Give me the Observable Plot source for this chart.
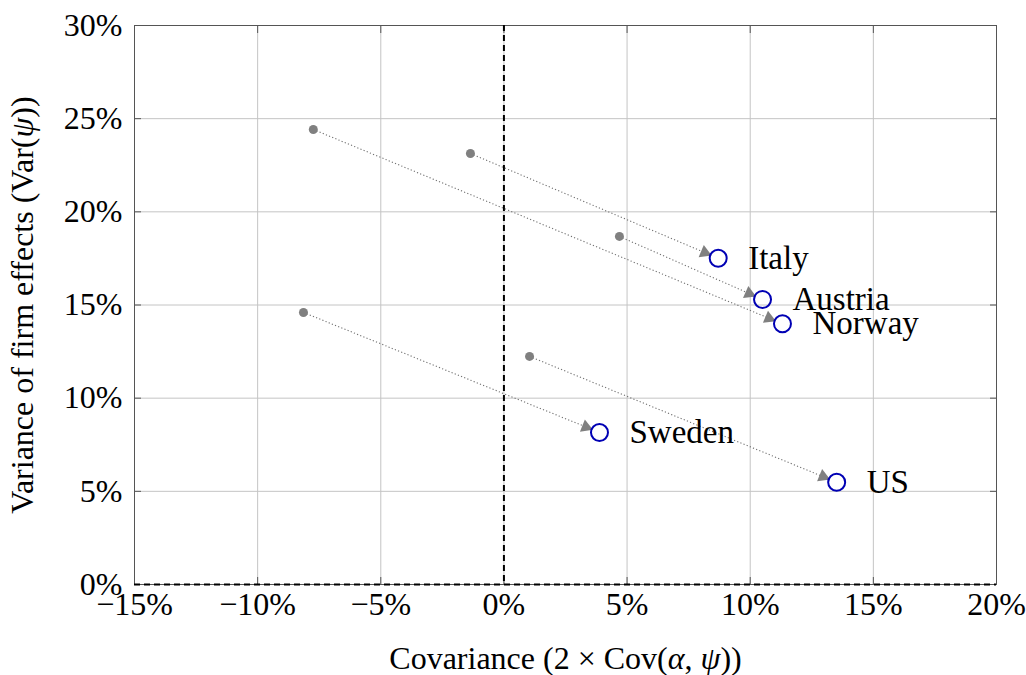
<!DOCTYPE html>
<html><head><meta charset="utf-8">
<script src="https://cdn.jsdelivr.net/npm/d3@7"></script>
<script src="https://cdn.jsdelivr.net/npm/@observablehq/plot@0.6"></script>
<style>body{margin:0;background:#fff}</style>
</head><body><div id="chart"></div>
<script>
const countries = ["Italy", "Austria", "Norway", "Sweden", "US"];
const covStart = [-1.36, 4.69, -7.74, -8.14, 1.04];
const varStart = [23.13, 18.68, 24.42, 14.60, 12.24];
const covEnd = [8.70, 10.50, 11.31, 3.88, 13.51];
const varEnd = [17.51, 15.30, 13.99, 8.16, 5.49];
const xTicks = [-15, -10, -5, 0, 5, 10, 15, 20];
const yTicks = [0, 5, 10, 15, 20, 25, 30];

const pct = d => (d < 0 ? "\u2212" : "") + Math.abs(d) + "%";
const FONT = "'Liberation Serif', 'Times New Roman', serif";

const layout = {
  width: 1026, height: 675,
  marginLeft: 134, marginRight: 30, marginTop: 25, marginBottom: 91,
  x: {domain: [-15, 20]},
  y: {domain: [0, 30]}
};

// first pass to get the scales, for arrowhead geometry in screen space
const base = Plot.plot({...layout, marks: [Plot.frame()]});
const sx = base.scale("x"), sy = base.scale("y");

const CIRCLE_R = 8.5, TIP_GAP = 7, HEAD_R = 4.9;
const headTip = 2 * Math.sqrt(Math.PI * HEAD_R * HEAD_R / (Math.sqrt(3) * 3));

const rows = countries.map((name, i) => {
  const p0 = [sx.apply(covStart[i]), sy.apply(varStart[i])];
  const p1 = [sx.apply(covEnd[i]), sy.apply(varEnd[i])];
  const L = Math.hypot(p1[0] - p0[0], p1[1] - p0[1]);
  const u = [(p1[0] - p0[0]) / L, (p1[1] - p0[1]) / L];
  const back = TIP_GAP + headTip;
  const hc = [p1[0] - u[0] * back, p1[1] - u[1] * back];
  return {
    name,
    x0: covStart[i], y0: varStart[i],
    x1: covEnd[i], y1: varEnd[i],
    hx: sx.invert(hc[0]), hy: sy.invert(hc[1]),
    rot: Math.atan2(u[1], u[0]) * 180 / Math.PI + 90
  };
});

const gridStyle = {stroke: "#c4c4c4", strokeOpacity: 1, strokeWidth: 1};
const tickStyle = {tickSize: -7, tickFormat: () => "", label: null, stroke: "#555", strokeOpacity: 1};

const chart = Plot.plot({
  ...layout,
  style: {fontFamily: FONT, fontSize: "32px", color: "black", background: "white", overflow: "visible"},
  marks: [
    Plot.gridX(xTicks, gridStyle),
    Plot.gridY(yTicks, gridStyle),
    Plot.axisX(xTicks, {anchor: "bottom", tickSize: 0, tickPadding: 8, tickFormat: pct, fontSize: 32,
      label: "Covariance (2 × Cov(α, ψ))", labelAnchor: "center", labelOffset: 84, labelArrow: "none"}),
    Plot.axisY(yTicks, {anchor: "left", tickSize: 0, tickPadding: 12, tickFormat: pct, fontSize: 32,
      label: "Variance of firm effects (Var(ψ))", labelAnchor: "center", labelOffset: 124, labelArrow: "none"}),
    Plot.axisX(xTicks, {anchor: "bottom", ...tickStyle}),
    Plot.axisX(xTicks, {anchor: "top", ...tickStyle}),
    Plot.axisY(yTicks, {anchor: "left", ...tickStyle}),
    Plot.axisY(yTicks, {anchor: "right", ...tickStyle}),
    Plot.frame({stroke: "#555", strokeOpacity: 1}),
    Plot.ruleX([0], {stroke: "black", strokeWidth: 2, strokeDasharray: "6,4"}),
    Plot.ruleY([0], {stroke: "black", strokeWidth: 2, strokeDasharray: "6,4"}),
    Plot.link(rows, {x1: "x0", y1: "y0", x2: "hx", y2: "hy", stroke: "#707070", strokeWidth: 1.1, strokeDasharray: "1.2,2.2"}),
    Plot.dot(rows, {x: "x0", y: "y0", r: 4.5, fill: "#808080", stroke: "none"}),
    Plot.dot(rows, {x: "hx", y: "hy", symbol: "triangle", r: HEAD_R, fill: "#808080", stroke: "none", rotate: "rot"}),
    Plot.dot(rows, {x: "x1", y: "y1", r: CIRCLE_R, stroke: "#0000b4", strokeWidth: 2, fill: "none"}),
    Plot.text(rows, {x: "x1", y: "y1", text: "name", dx: 30, textAnchor: "start", fontSize: 33, fill: "black"})
  ]
});

// italic Greek letters in axis labels
const xl = chart.querySelector('g[aria-label="x-axis label"] text');
if (xl) xl.innerHTML = 'Covariance (2 × Cov(<tspan font-style="italic">α</tspan>, <tspan font-style="italic">ψ</tspan>))';
const yl = chart.querySelector('g[aria-label="y-axis label"] text');
if (yl) yl.innerHTML = 'Variance of firm effects (Var(<tspan font-style="italic">ψ</tspan>))';

document.getElementById("chart").append(chart);
</script>
</body></html>
